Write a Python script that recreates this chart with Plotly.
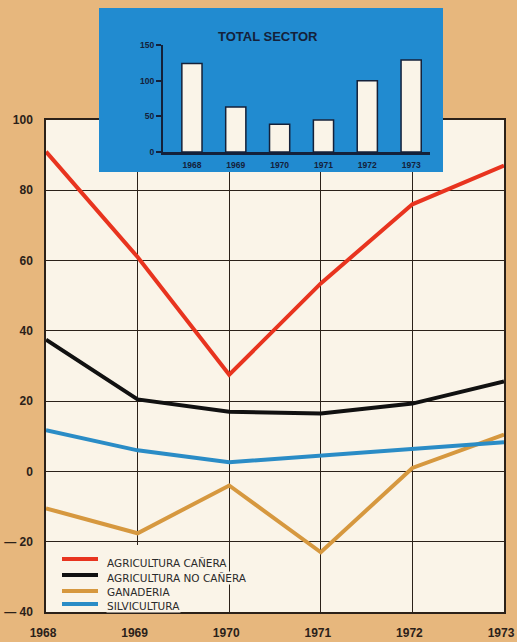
import plotly.graph_objects as go

years = [1968, 1969, 1970, 1971, 1972, 1973]
agri_canera = [91, 61, 27.5, 53.5, 76, 87]
agri_no_canera = [37.5, 20.5, 17, 16.5, 19.3, 25.6]
ganaderia = [-10.5, -17.6, -4, -23, 1, 10.5]
silvicultura = [11.7, 6, 2.6, 4.5, 6.3, 8.3]
total_sector = [124, 63, 39, 45, 100, 129]

series_names = ["AGRICULTURA CAÑERA", "AGRICULTURA NO CAÑERA", "GANADERIA", "SILVICULTURA"]
y_ticks = [-40, -20, 0, 20, 40, 60, 80, 100]
y_tick_labels = ["— 40", "— 20", "0", "20", "40", "60", "80", "100"]
inset_y_ticks = [0, 50, 100, 150]
inset_title = "TOTAL SECTOR"

W, H = 517, 642
def px(x):
    return x / W
def py(y):
    return 1 - y / H

PAGE = "#e7b77d"
CREAM = "#faf4e8"
BLUE = "#218bd0"
INK = "#2b2119"
NAVY = "#14213a"

colors = ["#e8341f", "#111111", "#d6983f", "#2a8cc6"]
values = [agri_canera, agri_no_canera, ganaderia, silvicultura]

fig = go.Figure()
for name, vals, c in zip(series_names, values, colors):
    fig.add_trace(go.Scatter(x=years, y=vals, mode="lines", name=name, showlegend=False,
                             line=dict(color=c, width=4), xaxis="x", yaxis="y"))

fig.add_trace(go.Bar(x=years, y=total_sector, xaxis="x3", yaxis="y3", showlegend=False,
                     width=0.46, marker=dict(color=CREAM, line=dict(color=NAVY, width=1.5))))

main_dom_x = [px(46), px(504)]
main_dom_y = [py(612), py(120)]
panel_dom_x = [px(99), px(443)]
panel_dom_y = [py(172), py(8)]
ins_dom_x = [px(163), px(430)]
ins_dom_y = [py(152), py(45)]

tickfont = dict(family="Liberation Sans", size=12, color=INK, weight="bold")
small = dict(family="Liberation Sans", size=8.5, color=NAVY, weight="bold")

shapes = [
    dict(type="rect", xref="paper", yref="paper", x0=main_dom_x[0], x1=main_dom_x[1],
         y0=main_dom_y[0], y1=main_dom_y[1], fillcolor=CREAM, line=dict(width=0), layer="below"),
    dict(type="rect", xref="x2", yref="y2", x0=0, x1=1, y0=0, y1=1,
         fillcolor=BLUE, line=dict(width=0), layer="between"),
    # legend box
    dict(type="rect", xref="paper", yref="paper", x0=px(47), x1=px(229), y0=py(611), y1=py(545),
         fillcolor=CREAM, line=dict(width=0), layer="above"),
]
annotations = [
    dict(text=inset_title, xref="paper", yref="paper", x=px(268), y=py(27),
         showarrow=False, font=dict(family="Liberation Sans", size=13, color=NAVY, weight="bold")),
]
leg_lines = [559, 575, 591, 604]
leg_text = [563, 578, 592, 606]
for name, c, ly, ty in zip(series_names, colors, leg_lines, leg_text):
    shapes.append(dict(type="line", xref="paper", yref="paper", x0=px(62), x1=px(98),
                       y0=py(ly), y1=py(ly), line=dict(color=c, width=4), layer="above"))
    annotations.append(dict(text=name, xref="paper", yref="paper", x=px(106), y=py(ty),
                            xanchor="left", yanchor="middle", showarrow=False,
                            bgcolor=CREAM, borderpad=0,
                            font=dict(family="DejaVu Sans", size=10.5, color="#2a2a2a")))

fig.update_layout(
    width=W, height=H,
    margin=dict(l=0, r=0, t=0, b=0),
    paper_bgcolor=PAGE,
    plot_bgcolor="rgba(0,0,0,0)",
    showlegend=False,
    xaxis=dict(domain=main_dom_x, range=[1968, 1973], tickvals=years,
               showgrid=True, gridcolor=INK, gridwidth=1, zeroline=False,
               showline=True, linecolor=INK, linewidth=1.5, mirror=True,
               ticks="", tickfont=tickfont, ticklabelstandoff=9, ticklabelshift=-3,
               automargin=False, ticklabeloverflow="allow"),
    yaxis=dict(domain=main_dom_y, range=[-40, 100], tickvals=y_ticks, ticktext=y_tick_labels,
               showgrid=True, gridcolor=INK, gridwidth=1, zeroline=False,
               showline=True, linecolor=INK, linewidth=1.5, mirror=True,
               ticks="", tickfont=tickfont, ticklabelstandoff=9, automargin=False,
               ticklabeloverflow="allow"),
    xaxis2=dict(domain=panel_dom_x, anchor="y2", range=[0, 1], visible=False, fixedrange=True),
    yaxis2=dict(domain=panel_dom_y, anchor="x2", range=[0, 1], visible=False, fixedrange=True),
    xaxis3=dict(domain=ins_dom_x, anchor="y3", range=[1967.34, 1973.43], tickvals=years,
                showgrid=False, zeroline=False, showline=True, linecolor=NAVY, linewidth=2.5,
                ticks="", tickfont=small, ticklabelstandoff=3, automargin=False),
    yaxis3=dict(domain=ins_dom_y, anchor="x3", range=[0, 150], tickvals=inset_y_ticks,
                showgrid=False, zeroline=False, showline=True, linecolor=NAVY, linewidth=2,
                ticks="outside", ticklen=5, tickcolor=NAVY, tickwidth=1.5,
                tickfont=small, automargin=False),
    shapes=shapes,
    annotations=annotations,
)

fig.write_html("out.html", config={"displayModeBar": False},
               post_script="document.body.style.margin='0';")
